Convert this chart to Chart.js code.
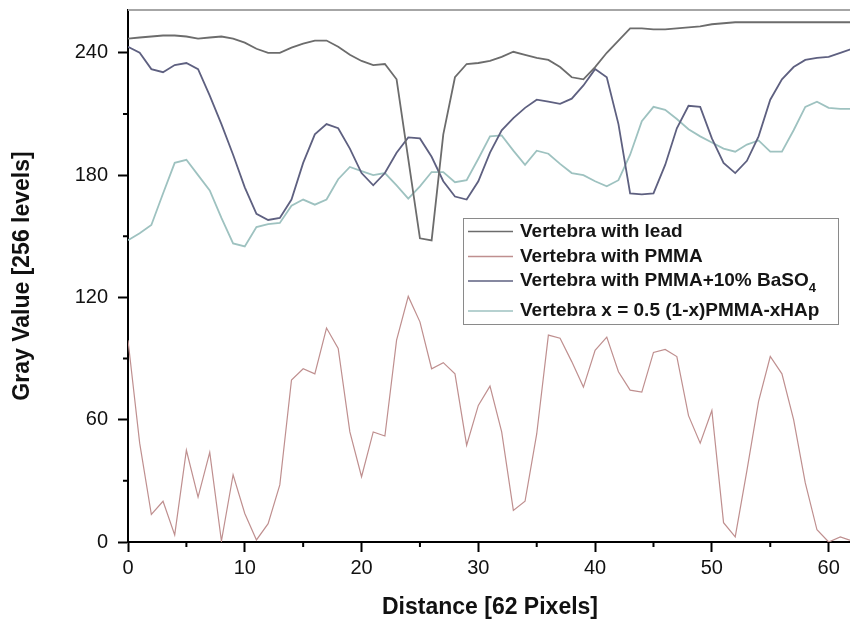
<!DOCTYPE html>
<html>
<head>
<meta charset="utf-8">
<title>Gray value profiles</title>
<script src="https://cdn.jsdelivr.net/npm/chart.js@4.4.1/dist/chart.umd.min.js"></script>
<style>
  html, body { margin: 0; padding: 0; background: #fff; overflow: hidden; }
  #wrap { width: 856px; height: 639px; margin-top: -12px; }
</style>
</head>
<body>
<div id="wrap"><canvas id="profile" width="856" height="639"></canvas></div>
<script>
// Distance along the profile (pixels)
const distance = [0, 1, 2, 3, 4, 5, 6, 7, 8, 9, 10, 11, 12, 13, 14, 15, 16, 17, 18, 19,
  20, 21, 22, 23, 24, 25, 26, 27, 28, 29, 30, 31, 32, 33, 34, 35, 36, 37, 38, 39,
  40, 41, 42, 43, 44, 45, 46, 47, 48, 49, 50, 51, 52, 53, 54, 55, 56, 57, 58, 59,
  60, 61, 62];

// Gray values
const leadValues = [247, 247.5, 248, 248.5, 248.5, 248, 247, 247.5, 248, 247,
  245, 242, 240, 240, 242.5, 244.5, 246, 246, 243, 239,
  236, 234, 234.5, 227, 188, 149, 148, 200, 228, 234.5,
  235, 236, 238, 240.5, 239, 237.5, 236.5, 233, 228, 227,
  233, 240, 246, 252, 252, 251.5, 251.5, 252, 252.5, 253,
  254, 254.5, 255, 255, 255, 255, 255, 255, 255, 255,
  255, 255, 255];

const pmmaValues = [99, 48.5, 13.5, 20, 3.5, 45, 22, 44, 0.5, 33,
  14, 1, 9, 28, 79.5, 85, 82.5, 105, 95, 54,
  32, 54, 52, 99, 120.5, 108, 85, 88, 82.5, 47.5,
  67, 76.5, 54, 15.5, 20, 53, 101.5, 100, 88.5, 76,
  94, 100.5, 83.5, 74.5, 73.5, 93, 94.5, 91, 62, 48.5,
  64.5, 9.5, 2.5, 35, 69, 91, 82.5, 60, 29, 6,
  0, 2.5, 0.5];

const baso4Values = [243, 240, 232, 230.5, 234, 235, 232, 219, 205, 190,
  174, 161, 158, 159, 168, 186, 200, 205, 203, 193,
  181, 175, 181, 191, 198.5, 198, 189, 177, 169.5, 168,
  177, 191, 202, 208, 213, 217, 216, 215, 217.5, 224,
  232, 228, 205, 171, 170.5, 171, 185, 203, 214, 213.5,
  198, 186, 181, 187, 199, 217, 227, 233, 236.5, 237.5,
  238, 240, 242];

const hapValues = [148, 151.5, 155.5, 171, 186, 187.5, 180, 172.5, 159, 146.5,
  145, 154.5, 156, 156.5, 165, 168, 165.5, 168, 178, 184,
  182, 180, 181, 175, 168.5, 174.5, 181.5, 181.5, 176.5, 177.5,
  188, 199, 199.5, 192, 185, 192, 190.5, 185.5, 181, 180,
  177, 174.5, 177.5, 190, 206.5, 213.5, 212, 207.5, 202.5, 199,
  196, 193, 191.5, 195, 197, 191.5, 191.5, 202, 213.5, 216,
  213, 212.5, 212.5];

const seriesLabels = [
  'Vertebra with lead',
  'Vertebra with PMMA',
  'Vertebra with PMMA+10% BaSO',
  'Vertebra x = 0.5 (1-x)PMMA-xHAp'
];
const seriesColors = ['#6c6c6c', '#bf8f8f', '#5e6080', '#9ec2c0'];
const seriesWidths = [1.8, 1.2, 1.8, 1.8];
const seriesValues = [leadValues, pmmaValues, baso4Values, hapValues];

// Minor tick values
const minorX = [5, 15, 25, 35, 45, 55];
const minorY = [30, 90, 150, 210];

function toPoints(values) {
  return values.map((v, i) => ({ x: distance[i], y: v }));
}

// Ticks, frame and legend drawn on top of the chart
const decorations = {
  id: 'decorations',
  afterDraw(chart) {
    const { ctx, chartArea: a, scales: { x, y } } = chart;
    ctx.save();
    ctx.strokeStyle = '#000';
    ctx.lineWidth = 2;
    ctx.beginPath();
    minorX.forEach(v => {
      const px = x.getPixelForValue(v);
      ctx.moveTo(px, a.bottom);
      ctx.lineTo(px, a.bottom + 5);
    });
    minorY.forEach(v => {
      const py = y.getPixelForValue(v);
      ctx.moveTo(a.left, py);
      ctx.lineTo(a.left - 5, py);
    });
    ctx.stroke();

    // top frame
    ctx.strokeStyle = '#a6a6a6';
    ctx.beginPath();
    ctx.moveTo(a.left, a.top);
    ctx.lineTo(a.right, a.top);
    ctx.stroke();

    // legend box (page coords + 12 for the canvas shift)
    const lx = 463, ly = 218 + 12, lw = 375, lh = 106;
    ctx.fillStyle = '#fff';
    ctx.fillRect(lx, ly, lw, lh);
    ctx.strokeStyle = '#8a8a8a';
    ctx.lineWidth = 1;
    ctx.strokeRect(lx + 0.5, ly + 0.5, lw, lh);

    const rowY = [13.5, 38.5, 63, 93];
    ctx.textBaseline = 'middle';
    ctx.textAlign = 'left';
    seriesLabels.forEach((label, i) => {
      const ry = ly + rowY[i];
      ctx.strokeStyle = seriesColors[i];
      ctx.lineWidth = 1.4;
      ctx.beginPath();
      ctx.moveTo(lx + 5, ry);
      ctx.lineTo(lx + 50, ry);
      ctx.stroke();
      ctx.fillStyle = '#151515';
      ctx.font = 'bold 19px Arial, "Liberation Sans", sans-serif';
      ctx.fillText(label, lx + 57, ry);
      if (i === 2) {
        const w = ctx.measureText(label).width;
        ctx.font = 'bold 13px Arial, "Liberation Sans", sans-serif';
        ctx.fillText('4', lx + 57 + w, ry + 7);
      }
    });
    ctx.restore();
  }
};

new Chart(document.getElementById('profile'), {
  type: 'line',
  data: {
    datasets: seriesValues.map((vals, i) => ({
      label: seriesLabels[i],
      data: toPoints(vals),
      borderColor: seriesColors[i],
      borderWidth: seriesWidths[i],
      pointRadius: 0,
      tension: 0,
      fill: false
    }))
  },
  options: {
    responsive: false,
    animation: false,
    layout: { padding: { top: 9, right: 4, left: 0, bottom: 0 } },
    plugins: {
      legend: { display: false },
      tooltip: { enabled: false }
    },
    scales: {
      x: {
        type: 'linear',
        min: 0,
        max: 62,
        afterFit: s => { s.height = 85; },
        ticks: {
          stepSize: 10,
          includeBounds: false,
          padding: 4,
          color: '#111',
          font: { family: 'Arial, "Liberation Sans", sans-serif', size: 20 }
        },
        grid: {
          drawOnChartArea: false,
          drawTicks: true,
          tickLength: 10,
          tickWidth: 2,
          tickColor: '#000'
        },
        border: { color: '#000', width: 2 },
        title: {
          display: true,
          text: 'Distance [62 Pixels]',
          color: '#111',
          padding: { top: 0, bottom: 6 },
          font: { family: 'Arial, "Liberation Sans", sans-serif', size: 23, weight: 'bold' }
        }
      },
      y: {
        min: 0,
        max: 261,
        afterFit: s => { s.width = 128; },
        ticks: {
          stepSize: 60,
          includeBounds: false,
          padding: 10,
          color: '#111',
          font: { family: 'Arial, "Liberation Sans", sans-serif', size: 20 }
        },
        grid: {
          drawOnChartArea: false,
          drawTicks: true,
          tickLength: 10,
          tickWidth: 2,
          tickColor: '#000'
        },
        border: { color: '#000', width: 2 },
        title: {
          display: true,
          text: 'Gray Value [256 levels]',
          color: '#111',
          padding: { top: 9, bottom: 0 },
          font: { family: 'Arial, "Liberation Sans", sans-serif', size: 23, weight: 'bold' }
        }
      }
    }
  },
  plugins: [decorations]
});
</script>
</body>
</html>
